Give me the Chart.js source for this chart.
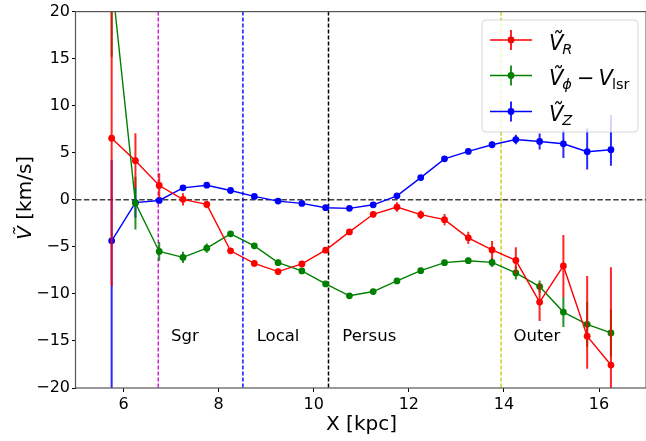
<!DOCTYPE html>
<html>
<head>
<meta charset="utf-8">
<script src="https://cdn.jsdelivr.net/npm/chart.js"></script>
<style>
  html, body { margin: 0; padding: 0; overflow: hidden; background: #fff; }
  canvas { display: block; }
</style>
</head>
<body>
<canvas id="chart" width="650" height="441"></canvas>
<script>
// bins in X [kpc]
const xs = [5.75, 6.25, 6.75, 7.25, 7.75, 8.25, 8.75, 9.25, 9.75, 10.25, 10.75,
            11.25, 11.75, 12.25, 12.75, 13.25, 13.75, 14.25, 14.75, 15.25, 15.75, 16.25];

// V_R
const vR    = [6.55, 4.16, 1.52, 0.05, -0.49, -5.42, -6.76, -7.63, -6.82, -5.35, -3.41,
               -1.54, -0.77, -1.58, -2.11, -4.04, -5.33, -6.44, -10.87, -7.03, -14.5, -17.56];
const errRLo = [15.7, 2.9, 1.3, 0.65, 0.4, 0.3, 0.3, 0.3, 0.3, 0.3, 0.3,
                0.35, 0.5, 0.45, 0.6, 0.65, 0.95, 1.4, 2.0, 3.3, 3.45, 10.4];
const errRHi = [15.7, 2.9, 1.3, 0.65, 0.4, 0.3, 0.3, 0.3, 0.3, 0.3, 0.3,
                0.35, 0.5, 0.45, 0.6, 0.65, 0.95, 1.4, 2.0, 3.3, 6.4, 10.4];

// V_phi - V_lsr
const vP    = [23.5, -0.35, -5.49, -6.12, -5.14, -3.62, -4.89, -6.68, -7.56, -8.94, -10.2,
               -9.75, -8.62, -7.53, -6.68, -6.47, -6.65, -7.77, -9.22, -11.93, -13.23, -14.15];
const errPLo = [8.3, 2.8, 1.0, 0.6, 0.5, 0.3, 0.3, 0.3, 0.3, 0.3, 0.3,
                0.3, 0.3, 0.3, 0.3, 0.3, 0.5, 0.7, 0.65, 1.6, 2.4, 2.5];
const errPHi = [8.3, 2.8, 1.0, 0.6, 0.5, 0.3, 0.3, 0.3, 0.3, 0.3, 0.3,
                0.3, 0.3, 0.3, 0.3, 0.3, 0.5, 0.7, 0.65, 1.6, 2.4, 2.5];

// V_Z
const vZ    = [-4.36, -0.3, -0.07, 1.27, 1.55, 0.99, 0.36, -0.14, -0.38, -0.84, -0.91,
               -0.53, 0.42, 2.36, 4.35, 5.14, 5.85, 6.4, 6.2, 5.95, 5.11, 5.32];
const errZLo = [17, 1.6, 0.3, 0.2, 0.2, 0.2, 0.2, 0.2, 0.2, 0.2, 0.2,
                0.2, 0.25, 0.25, 0.25, 0.3, 0.35, 0.5, 0.85, 1.5, 1.9, 1.7];
const errZHi = [8.6, 1.6, 0.3, 0.2, 0.2, 0.2, 0.2, 0.2, 0.2, 0.2, 0.2,
                0.2, 0.25, 0.25, 0.25, 0.3, 0.35, 0.5, 0.85, 1.5, 2.5, 3.7];

const xTicks = [6, 8, 10, 12, 14, 16];
const yTicks = [-20, -15, -10, -5, 0, 5, 10, 15, 20];

// arm boundaries and labels
const armLines  = [6.73, 8.51, 10.31, 13.94];
const armColors = ["#d020d0", "#1010ff", "#000000", "#cccc22"];
const armNames  = ["Sgr", "Local", "Persus", "Outer"];
const armTextX  = [7.0, 8.8, 10.6, 14.2];
const armTextY  = -15;

const colors = ["#ff0000", "#008000", "#0000ff"];
const errColors = ["rgba(255,0,0,0.85)", "rgba(0,128,0,0.85)", "rgba(0,0,255,0.85)"];
const errs = [[errRLo, errRHi], [errPLo, errPHi], [errZLo, errZHi]];
const vals = [vR, vP, vZ];

const FONT = "'DejaVu Sans', sans-serif";

function pts(v) {
    return xs.map((x, i) => ({ x: x, y: v[i] }));
}

// dashed reference lines, under the data
const refLines = {
    id: "refLines",
    beforeDatasetsDraw(chart) {
        const { ctx, chartArea: a, scales: { x, y } } = chart;
        ctx.save();
        ctx.beginPath();
        ctx.rect(a.left, a.top, a.right - a.left, a.bottom - a.top);
        ctx.clip();
        ctx.lineWidth = 1.5;
        ctx.setLineDash([4, 2]);
        armLines.forEach((v, i) => {
            const px = x.getPixelForValue(v);
            ctx.strokeStyle = armColors[i];
            ctx.beginPath();
            ctx.moveTo(px, a.top);
            ctx.lineTo(px, a.bottom);
            ctx.stroke();
        });
        const py = y.getPixelForValue(0);
        ctx.strokeStyle = "rgba(0,0,0,0.75)";
        ctx.lineWidth = 1.5;
        ctx.setLineDash([5.5, 2.4]);
        ctx.beginPath();
        ctx.moveTo(a.left, py);
        ctx.lineTo(a.right, py);
        ctx.stroke();
        ctx.restore();
    }
};

// vertical error bars for each series
const errorBars = {
    id: "errorBars",
    beforeDatasetDraw(chart, args) {
        const i = args.index;
        const { ctx, chartArea: a, scales: { x, y } } = chart;
        ctx.save();
        ctx.beginPath();
        ctx.rect(a.left, a.top, a.right - a.left, a.bottom - a.top);
        ctx.clip();
        ctx.strokeStyle = errColors[i];
        ctx.lineWidth = 2;
        xs.forEach((xv, j) => {
            const v = vals[i][j];
            const px = x.getPixelForValue(xv);
            ctx.beginPath();
            ctx.moveTo(px, y.getPixelForValue(v - errs[i][0][j]));
            ctx.lineTo(px, y.getPixelForValue(v + errs[i][1][j]));
            ctx.stroke();
        });
        ctx.restore();
    }
};

// draws a run of text pieces [text, font, dy, dx], returns end x
function drawRun(ctx, x, y, parts) {
    parts.forEach(p => {
        ctx.font = p[1];
        if (p[3]) x += p[3];
        ctx.fillText(p[0], x, y + (p[2] || 0));
        x += ctx.measureText(p[0]).width;
    });
    return x;
}

function runWidth(ctx, parts) {
    let w = 0;
    parts.forEach(p => { ctx.font = p[1]; w += ctx.measureText(p[0]).width + (p[3] || 0); });
    return w;
}

const decorations = {
    id: "decorations",
    afterDatasetsDraw(chart) {
        const { ctx, chartArea: a, scales: { x, y } } = chart;
        ctx.save();
        // frame
        ctx.strokeStyle = "#555";
        ctx.lineWidth = 1.2;
        ctx.strokeRect(a.left - 0.5, a.top, a.right - a.left, a.bottom - a.top);

        // arm names
        ctx.fillStyle = "#000";
        ctx.font = "16.5px " + FONT;
        ctx.textAlign = "left";
        ctx.textBaseline = "alphabetic";
        armNames.forEach((t, i) => {
            ctx.fillText(t, x.getPixelForValue(armTextX[i]), y.getPixelForValue(armTextY));
        });

        // axis titles
        ctx.font = "20px " + FONT;
        ctx.textAlign = "center";
        ctx.fillText("X [kpc]", 361.5, 430);

        const yParts = [["V\u0303", "italic 20px " + FONT], [" [km/s]", "20px " + FONT]];
        ctx.textAlign = "left";
        ctx.translate(31, (a.top + a.bottom) / 2 - 2);
        ctx.rotate(-Math.PI / 2);
        drawRun(ctx, -runWidth(ctx, yParts) / 2, 0, yParts);
        ctx.restore();

        // legend
        ctx.save();
        const bx = 482, by = 20, bw = 156, bh = 112, r = 4;
        ctx.beginPath();
        ctx.moveTo(bx + r, by);
        ctx.arcTo(bx + bw, by, bx + bw, by + bh, r);
        ctx.arcTo(bx + bw, by + bh, bx, by + bh, r);
        ctx.arcTo(bx, by + bh, bx, by, r);
        ctx.arcTo(bx, by, bx + bw, by, r);
        ctx.closePath();
        ctx.fillStyle = "rgba(255,255,255,0.8)";
        ctx.fill();
        ctx.strokeStyle = "rgba(204,204,204,0.8)";
        ctx.lineWidth = 1;
        ctx.stroke();

        const big = "italic 21px " + FONT;
        const sub = "italic 14.5px " + FONT;
        const subR = "14.5px " + FONT;
        const rm = "21px " + FONT;
        const rows = [
            [40, [["V\u0303", big], ["R", sub, 4, -1]]],
            [75.5, [["V\u0303", big], ["\u03d5", sub, 4, -1], ["\u2212", rm, 0, 5], ["V", big, 0, 4], ["lsr", subR, 4, -1]]],
            [111.5, [["V\u0303", big], ["Z", sub, 4, -1]]]
        ];
        ctx.textAlign = "left";
        ctx.textBaseline = "alphabetic";
        rows.forEach((row, i) => {
            const ry = row[0];
            ctx.strokeStyle = errColors[i];
            ctx.lineWidth = 2;
            ctx.beginPath();
            ctx.moveTo(511, ry - 10);
            ctx.lineTo(511, ry + 10);
            ctx.stroke();
            ctx.strokeStyle = colors[i];
            ctx.lineWidth = 1.4;
            ctx.beginPath();
            ctx.moveTo(490, ry);
            ctx.lineTo(532, ry);
            ctx.stroke();
            ctx.fillStyle = colors[i];
            ctx.beginPath();
            ctx.arc(511, ry, 3.4, 0, Math.PI * 2);
            ctx.fill();
            ctx.fillStyle = "#000";
            drawRun(ctx, 549, ry + 9.5, row[1]);
        });
        ctx.restore();
    }
};

const datasets = vals.map((v, i) => ({
    data: pts(v),
    borderColor: colors[i],
    backgroundColor: colors[i],
    borderWidth: 1.4,
    pointRadius: 3.4,
    pointBorderWidth: 0,
    pointHoverRadius: 3.4,
    tension: 0
}));

new Chart(document.getElementById("chart"), {
    type: "line",
    data: { datasets: datasets },
    options: {
        responsive: false,
        devicePixelRatio: 1,
        animation: false,
        events: [],
        layout: { padding: { top: 10, right: 2, left: 0, bottom: 0 } },
        plugins: { legend: { display: false }, tooltip: { enabled: false } },
        scales: {
            x: {
                type: "linear",
                min: 5,
                max: 17,
                afterFit(s) { s.height = 53; },
                afterBuildTicks(s) { s.ticks = xTicks.map(v => ({ value: v })); },
                border: { display: false },
                grid: { drawOnChartArea: false, drawTicks: true, tickLength: 4, color: "#000", lineWidth: 1 },
                ticks: { color: "#000", font: { family: FONT, size: 16 }, padding: 3, maxRotation: 0 }
            },
            y: {
                min: -20,
                max: 20,
                afterFit(s) { s.width = 76; },
                afterBuildTicks(s) { s.ticks = yTicks.map(v => ({ value: v })); },
                border: { display: false },
                grid: { drawOnChartArea: false, drawTicks: true, tickLength: 4, color: "#000", lineWidth: 1 },
                ticks: {
                    color: "#000",
                    font: { family: FONT, size: 16 },
                    padding: 2,
                    callback: v => String(v).replace("-", "\u2212")
                }
            }
        }
    },
    plugins: [refLines, errorBars, decorations]
});
</script>
</body>
</html>
